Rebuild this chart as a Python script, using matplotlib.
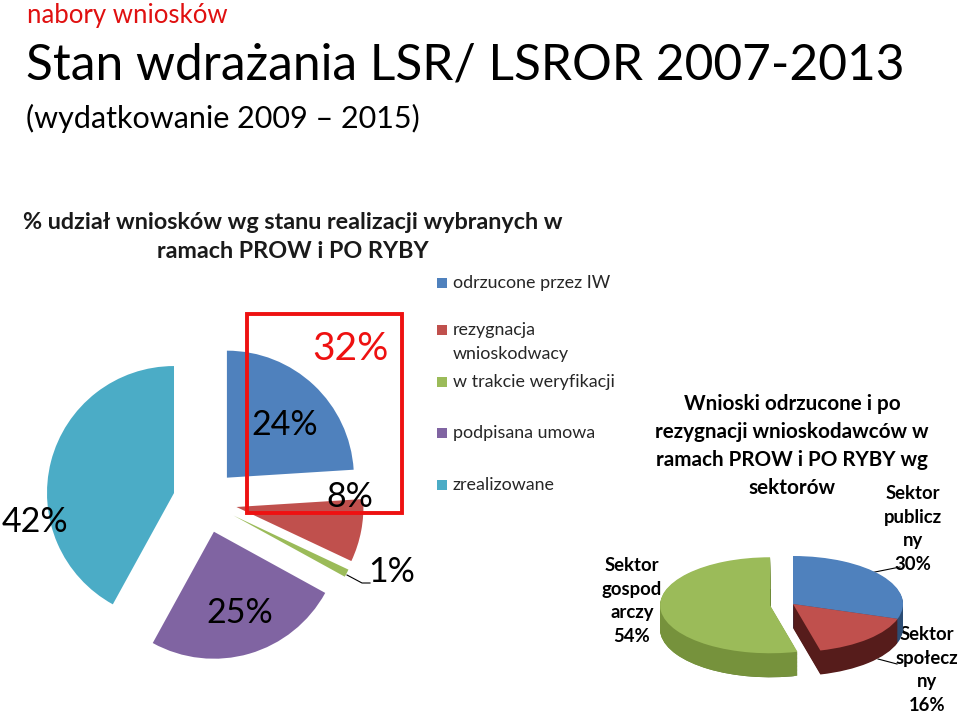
import matplotlib
matplotlib.use('Agg')
import matplotlib.pyplot as plt
import numpy as np
from matplotlib.patches import Rectangle
from matplotlib.colors import LinearSegmentedColormap

plt.rcParams['font.family'] = ['Lato', 'DejaVu Sans']

# ---------------- data ----------------
status_labels = ['odrzucone przez IW', 'rezygnacja\nwnioskodwacy',
                 'w trakcie weryfikacji', 'podpisana umowa', 'zrealizowane']
status_values = [24, 8, 1, 25, 42]
status_colors = ['#4F81BD', '#C0504D', '#9BBB59', '#8064A2', '#4BACC6']
highlight_value = 32  # odrzucone + rezygnacja

sector_title = ['Wnioski odrzucone i po', 'rezygnacji wnioskodawców w',
                'ramach PROW i PO RYBY wg', 'sektorów']
sector_labels = ['Sektor\npublicz\nny', 'Sektor\nspołecz\nny', 'Sektor\ngospod\narczy']
sector_values = [30, 16, 54]
sector_colors = ['#4F81BD', '#C0504D', '#9BBB59']
sector_side = ['#2C4D75', '#561C1B', '#76923C']

W, H = 960, 714
fig = plt.figure(figsize=(9.6, 7.14), dpi=100)
ax = fig.add_axes([0, 0, 1, 1])


def Y(y):
    return H - y


# ---------------- left pie ----------------
ax.pie(status_values, colors=status_colors, startangle=90, counterclock=False,
       explode=[32] * len(status_values), center=(205, Y(501)), radius=127,
       wedgeprops=dict(linewidth=0))
ax.set_aspect('auto')
ax.set_xlim(0, W)
ax.set_ylim(0, H)
ax.axis('off')

label_pos = [(285, 425), (350, 497), (392, 572), (240, 613), (35, 522)]
for v, (px, py) in zip(status_values, label_pos):
    ax.text(px, Y(py), f'{v}%', ha='center', va='center', fontsize=24.5, color='black')
ax.plot([347, 362, 370], [Y(575), Y(583), Y(583)], color='black', lw=0.8)

ax.add_patch(Rectangle((247, Y(513)), 155, 199, fill=False, ec='#EE1111', lw=2.8))
ax.text(350, Y(349), f'{highlight_value}%', ha='center', va='center', fontsize=28, color='#EE1111')

# legend
rows = [283, 330, 382, 433, 485]
for lab, col, ry in zip(status_labels, status_colors, rows):
    ax.add_patch(Rectangle((437, Y(ry + 5)), 10, 10, color=col, lw=0))
    for i, line in enumerate(lab.split('\n')):
        ax.text(453, Y(ry + 24 * i), line, ha='left', va='center', fontsize=12.9, color='#262626')

# titles
ax.text(27, Y(16), 'nabory wniosków', ha='left', va='center', fontsize=18.5, color='#E01010')
ax.text(26, Y(65), 'Stan wdrażania LSR/ LSROR 2007-2013', ha='left', va='center', fontsize=35.7, color='black')
ax.text(26, Y(118), '(wydatkowanie 2009 – 2015)', ha='left', va='center', fontsize=22, color='black')
ax.text(293, Y(237), '% udział wniosków wg stanu realizacji wybranych w\nramach PROW i PO RYBY',
        ha='center', va='center', fontsize=16.8, fontweight='bold', linespacing=1.46, color='#1a1a1a')

# right chart title & labels
for line, ly in zip(sector_title, [404, 432, 460, 488]):
    ax.text(792, Y(ly), line, ha='center', va='center', fontsize=14.9,
            fontweight='bold', color='black')
sector_label_pos = [(913, 529), (927, 670), (632, 601)]
for lab, v, (px, py) in zip(sector_labels, sector_values, sector_label_pos):
    ax.text(px, Y(py), f'{lab}\n{v}%', ha='center', va='center', fontsize=13.3,
            fontweight='bold', linespacing=1.47, color='black')
ax.plot([870, 900], [Y(573), Y(567)], color='black', lw=0.8)
ax.plot([878, 897], [Y(659), Y(664)], color='black', lw=0.8)

# ---------------- right pseudo-3D pie ----------------
sx, sy = 110.0, 48.0
cx, cy = 793.0, 604.0
xl, yl = (-1.6, 1.4), (-1.9, 1.3)
left = (cx + xl[0] * sx) / W
width = (xl[1] - xl[0]) * sx / W
bottom = (H - (cy - yl[0] * sy)) / H
height = (yl[1] - yl[0]) * sy / H
ax2 = fig.add_axes([left, bottom, width, height])
explode = [0, 0, 0.21]
thick = 0.5
n = 30
green_grad = LinearSegmentedColormap.from_list(
    'gside', ['#9CBE5A', '#86A849', '#6B8A38', '#56702C', '#47592A'])
grad = np.linspace(0, 1, 256).reshape(1, -1)
for k in range(n, 0, -1):
    wl, _ = ax2.pie(sector_values, colors=sector_side, startangle=90, counterclock=False,
                    explode=explode, center=(0, -thick * k / n), radius=1,
                    wedgeprops=dict(linewidth=0))
    im = ax2.imshow(grad, cmap=green_grad, extent=(-1.45, 0.0, -1.9, 0.3),
                    aspect='auto', interpolation='bilinear')
    im.set_clip_path(wl[2])
ax2.pie(sector_values, colors=sector_colors, startangle=90, counterclock=False,
        explode=explode, center=(0, 0), radius=1, wedgeprops=dict(linewidth=0))
ax2.set_aspect('auto')
ax2.set_xlim(*xl)
ax2.set_ylim(*yl)
ax2.axis('off')

fig.savefig('out.png', dpi=100)
